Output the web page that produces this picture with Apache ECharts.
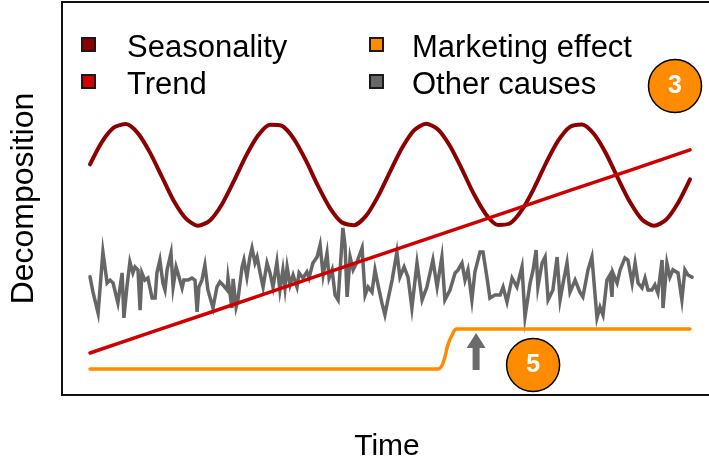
<!DOCTYPE html>
<html>
<head>
<meta charset="utf-8">
<script src="https://cdn.jsdelivr.net/npm/echarts@6/dist/echarts.min.js"></script>
<style>
  html, body { margin: 0; padding: 0; background: #fff; }
  #chart { width: 709px; height: 457px; }
</style>
</head>
<body>
<div id="chart"></div>
<script>
// Time steps for the seasonal component and its values
const seasonT = [0,4,8,12,16,20,24,28,32,36,40,44,48,52,56,60,64,68,72,76,80,84,88,92,96,100,
  104,108,112,116,120,124,128,132,136,140,144,148,152,156,160,164,168,172,176,180,184,188,192,196,200];
const seasonality = [76.9,84.4,89.2,90.3,87.2,80.8,72.7,64.6,58.8,56.4,58.2,63.6,71.4,79.7,86.5,90.1,
  89.7,85.3,78.1,69.7,62.3,57.5,56.6,59.7,66.2,74.4,82.3,88.2,90.4,88.5,83.0,75.2,66.9,60.2,56.7,
  57.2,61.7,68.9,77.3,84.7,89.4,90.2,87.0,80.5,72.2,64.3,58.5,56.4,58.4,64.0,71.9];

// Long-term trend
const trendT = [0,20,40,60,80,100,120,140,160,180,200];
const trend = [14.0,20.8,27.5,34.3,41.1,47.9,54.6,61.4,68.2,74.9,81.7];

// Marketing effect: flat, then a step up after the campaign
const marketingT = [0,116,117.7,119.3,120.7,122.3,200];
const marketing = [8.7,8.7,10.7,16.7,20.0,22.0,22.0];

// Irregular component ("other causes")
const otherT = [0,1,2.7,4.3,5.7,6.7,7.7,9.3,10.7,11.3,12.3,13.3,14.3,15,16,16.7,17.3,18.3,19.3,20.7,
  21.7,22.3,23.3,24.3,25,25.7,27,27.7,28.7,29.3,30.7,31.3,32.7,34,35,35.7,36.3,37.3,38.3,39.3,41,
  42.3,43.3,44.3,45.7,46,47.3,47.7,48.7,49.3,50.7,51.3,52.3,53.3,54,55,55.7,56.7,57.7,59,60,61,
  62.3,63.3,64.3,65,65.7,66.7,67.7,69,69.7,71,72.3,73,74.3,75.7,76.7,77.7,79,79.7,80.7,81.7,82.7,
  84.3,85,85.7,86.7,87.7,89,90.7,91.7,92.7,94,95,96,97.3,98.3,99.3,100.7,102.3,103.3,104.7,106,
  107.3,109,110.7,112.3,114.3,115.7,117.3,118.3,120,121.7,122.7,124,125,126,127.3,128.3,130,131,
  132.3,133.3,135,136.7,137.7,139,140.7,142.3,144,145,146.7,147.7,148.7,149.3,150.7,151.7,152.7,
  154.3,155.7,156.7,157.7,159,160,161.7,163.3,164.3,166,167.3,168.3,169,170,171,172.3,173.3,174,
  174.3,175.7,176.7,178.3,179.3,180.7,181.7,182.7,184,185,186,187.3,188.3,189.3,190.7,191,192.3,
  193.3,194.3,196,197.3,198.3,199.3,200.7];
const otherV = [39.4,34.3,27.3,47.7,37.3,38.3,37.3,30.7,40.7,25.7,36,44.3,40.7,42.7,41.7,28.3,40.7,
  38.3,39,32.3,32.3,40.7,45,37.3,35,41.7,47.3,36,42.7,40.7,35.7,38.3,38.3,39,38.3,27.7,36,38.3,43.3,
  35,29,36,37.7,36.7,35,39,29,38.7,29.3,31.7,42.7,45,39.3,46,49,44,46,40.7,36,44,40.7,36,44.3,35,
  41.7,35.7,42.7,36.7,40,36,40.7,39,41,39,44,46,50,40,47.3,39,41.7,33.3,31.7,55.7,50,32.7,46,41.7,
  44.3,49,33.3,36,34.3,41.7,36.7,30.7,26.7,31.7,38.3,47.7,39.3,42.7,39.3,29,44,31.7,36,45,36,46,
  31.7,35,40.7,41.7,44,38.3,41.7,31.7,41,47.7,47.7,39.3,32.3,33.3,33.3,36,31,39,36,42.7,26,37.3,
  41.7,48.3,36,44,46,31.7,35,46,31.7,37.3,44,34.3,38.3,34.3,32.7,41.7,46,34,25.7,29.3,26.7,38.3,
  40,32.7,40.7,37.3,41.7,45.7,45,37.3,44,37.3,35.7,39,35,35,36.7,34,45,29,44,39.3,41.7,40.7,31.7,
  41.7,40,39.3];

// Callout markers: numbered badges and the campaign arrow
const badges = [{ t: 195, v: 103, text: '3' }, { t: 147.7, v: 10, text: '5' }];
const arrowPoint = [128.7, 14.5];

const legendNames = ['Seasonality', 'Trend', 'Marketing effect', 'Other causes'];
const axisNames = { x: 'Time', y: 'Decomposition' };

const FONT = '"Liberation Sans", Arial, sans-serif';
const colors = {
  season: '#8b0000',
  trend: '#d00000',
  marketing: '#ff8c00',
  other: '#666666'
};

const zip = (a, b) => a.map((x, i) => [x, b[i]]);

const lineSeries = (name, t, v, color, width, z, join) => ({
  name,
  type: 'line',
  data: zip(t, v),
  showSymbol: false,
  symbol: 'none',
  sampling: null,
  lineStyle: { color, width, join: join || 'round', cap: 'round', opacity: 1 },
  itemStyle: { color, borderColor: '#1a1a1a', borderWidth: 1.5, opacity: 1 },
  z,
  silent: true,
  animation: false
});

// Square legend key sitting slightly above the text's middle:
// a 13px square plus an empty point 8px below it widens the icon box to 21px.
const legendIcon = 'path://M0,0 L13,0 L13,13 L0,13 Z M0,21 L0,21';

const legendBase = {
  orient: 'vertical',
  top: 33,
  padding: 0,
  itemGap: 6,
  itemWidth: 13,
  itemHeight: 21,
  icon: legendIcon,
  selectedMode: false,
  itemStyle: { borderCap: 'butt' }
};

const legendText = {
  fontFamily: FONT,
  fontSize: 31,
  color: '#000',
  lineHeight: 29,
  padding: [0, 0, 0, 27]
};

const chart = echarts.init(document.getElementById('chart'), null, { renderer: 'canvas' });

chart.setOption({
  backgroundColor: '#fff',
  animation: false,
  grid: {
    left: 62,
    top: 2,
    width: 650,
    height: 393,
    show: true,
    outerBoundsMode: 'none',
    containLabel: false,
    borderColor: '#111',
    borderWidth: 2,
    backgroundColor: 'transparent'
  },
  xAxis: {
    type: 'value',
    min: -9.333,
    max: 207.333,
    name: axisNames.x,
    nameLocation: 'middle',
    nameGap: 37,
    nameTextStyle: { fontFamily: FONT, fontSize: 30, color: '#000' },
    axisLine: { show: false },
    axisTick: { show: false },
    axisLabel: { show: false },
    splitLine: { show: false }
  },
  yAxis: {
    type: 'value',
    min: 0,
    max: 131,
    name: axisNames.y,
    nameLocation: 'middle',
    nameRotate: 90,
    nameGap: 22,
    nameTextStyle: { fontFamily: FONT, fontSize: 32, color: '#000' },
    axisLine: { show: false },
    axisTick: { show: false },
    axisLabel: { show: false },
    splitLine: { show: false }
  },
  legend: [
    Object.assign({}, legendBase, {
      data: legendNames.slice(0, 2),
      left: 81,
      textStyle: legendText
    }),
    Object.assign({}, legendBase, {
      data: legendNames.slice(2),
      left: 369,
      textStyle: Object.assign({}, legendText, { padding: [0, 0, 0, 24] })
    })
  ],
  series: [
    lineSeries(legendNames[3], otherT, otherV, colors.other, 3.5, 2, 'miter'),
    Object.assign(lineSeries(legendNames[0], seasonT, seasonality, colors.season, 4, 3), { smooth: 0.25 }),
    lineSeries(legendNames[1], trendT, trend, colors.trend, 3.5, 4),
    Object.assign(lineSeries(legendNames[2], marketingT, marketing, colors.marketing, 3.5, 5), { smooth: 0.4 }),
    {
      type: 'scatter',
      silent: true,
      z: 6,
      symbol: 'path://M9.5,0 L19,15 L13,15 L13,37 L6,37 L6,15 L0,15 Z',
      symbolSize: [19, 37],
      itemStyle: { color: '#6b6b6b', opacity: 1 },
      data: [arrowPoint]
    },
    {
      type: 'scatter',
      silent: true,
      z: 7,
      symbol: 'circle',
      symbolSize: 53,
      itemStyle: { color: '#ff8c00', borderColor: '#000', borderWidth: 1.5, opacity: 1 },
      label: {
        show: true,
        position: 'inside',
        formatter: p => p.data[2],
        color: '#fff',
        fontFamily: FONT,
        fontWeight: 'bold',
        fontSize: 25
      },
      data: badges.map(b => [b.t, b.v, b.text])
    }
  ]
});
</script>
</body>
</html>
